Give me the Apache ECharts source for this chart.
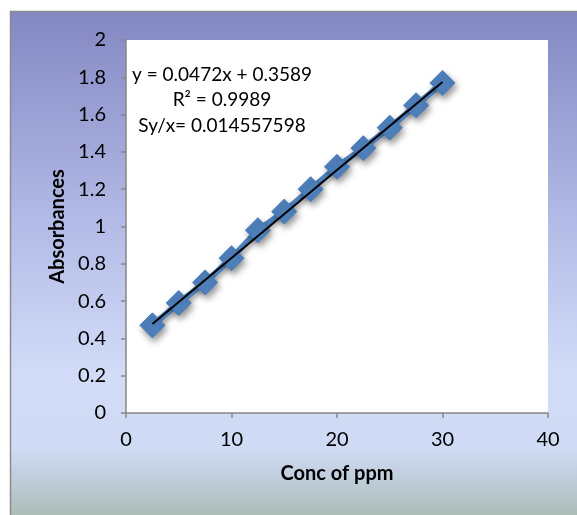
<!DOCTYPE html>
<html>
<head>
<meta charset="utf-8">
<script src="https://cdn.jsdelivr.net/npm/echarts@6/dist/echarts.min.js"></script>
<style>
  html, body { margin: 0; padding: 0; background: #ffffff; }
  #chart { width: 577px; height: 515px; }
</style>
</head>
<body>
<div id="chart"></div>
<script>
// Calibration data: concentration (ppm) vs absorbance
const concentrations = [2.5, 5, 7.5, 10, 12.5, 15, 17.5, 20, 22.5, 25, 27.5, 30];
const absorbances = [0.47, 0.59, 0.70, 0.83, 0.98, 1.08, 1.20, 1.32, 1.42, 1.53, 1.65, 1.77];

// Linear regression results shown on the chart
const slope = 0.0472;
const intercept = 0.3589;
const rSquared = '0.9989';
const syx = '0.014557598';

const xTicks = { min: 0, max: 40, interval: 10 };
const yTicks = { min: 0, max: 2, interval: 0.2 };

const xTitle = 'Conc of ppm';
const yTitle = 'Absorbances';

const FONT = 'Lato, "Open Sans", sans-serif';
const FS = 20;

const points = concentrations.map((x, i) => [x, absorbances[i]]);
const xFirst = concentrations[0];
const xLast = concentrations[concentrations.length - 1];
const trend = [
  [xFirst, slope * xFirst + intercept],
  [xLast, slope * xLast + intercept]
];

const chart = echarts.init(document.getElementById('chart'), null, { renderer: 'canvas' });

chart.setOption({
  animation: false,
  backgroundColor: '#ffffff',
  graphic: [
    {
      type: 'rect',
      z: -10,
      silent: true,
      shape: { x: 10.5, y: 11.5, width: 600, height: 520 },
      style: {
        stroke: '#8c8c8c',
        lineWidth: 1.5,
        fill: {
          type: 'linear', x: 0, y: 0, x2: 0, y2: 1,
          colorStops: [
            { offset: 0, color: '#8387c2' },
            { offset: 0.4, color: '#b2bae6' },
            { offset: 0.7, color: '#d2dcf8' },
            { offset: 0.84, color: '#cfdaf4' },
            { offset: 0.93, color: '#b7c6cc' },
            { offset: 1, color: '#a1b5a1' }
          ]
        }
      }
    },
    {
      type: 'text',
      x: 222,
      y: 62,
      z: 10,
      silent: true,
      style: {
        text: 'y = ' + slope + 'x + ' + intercept + '\nR² = ' + rSquared + '\nSy/x= ' + syx,
        align: 'center',
        verticalAlign: 'top',
        font: '19px ' + FONT,
        lineHeight: 25.5,
        fill: '#000000'
      }
    }
  ],
  grid: {
    left: 126,
    top: 40,
    width: 422,
    height: 373,
    show: true,
    backgroundColor: '#ffffff',
    borderWidth: 0,
    outerBoundsMode: 'none'
  },
  xAxis: {
    type: 'value',
    min: xTicks.min,
    max: xTicks.max,
    interval: xTicks.interval,
    name: xTitle,
    nameLocation: 'middle',
    nameGap: 51,
    nameTextStyle: { fontFamily: FONT, fontSize: FS, fontWeight: 'bold', color: '#000' },
    axisLine: { show: true, onZero: false, lineStyle: { color: '#868686', width: 1.5 } },
    axisTick: { show: true, inside: false, length: 5, lineStyle: { color: '#868686', width: 1.5 } },
    axisLabel: { margin: 17, fontFamily: FONT, fontSize: FS, color: '#000' },
    splitLine: { show: false }
  },
  yAxis: {
    type: 'value',
    min: yTicks.min,
    max: yTicks.max,
    interval: yTicks.interval,
    name: yTitle,
    nameLocation: 'middle',
    nameGap: 54,
    nameRotate: 90,
    nameTextStyle: { fontFamily: FONT, fontSize: FS, fontWeight: 'bold', color: '#000' },
    axisLine: { show: true, onZero: false, lineStyle: { color: '#868686', width: 1.5 } },
    axisTick: { show: true, inside: false, length: 5, lineStyle: { color: '#868686', width: 1.5 } },
    axisLabel: {
      margin: 20, fontFamily: FONT, fontSize: FS, color: '#000',
      formatter: v => String(+v.toFixed(1))
    },
    splitLine: { show: false }
  },
  series: [
    {
      name: 'Absorbance',
      type: 'line',
      data: points,
      symbol: 'diamond',
      symbolSize: 25,
      showSymbol: true,
      lineStyle: {
        color: '#4f81bd',
        width: 6,
        shadowColor: 'rgba(0,0,0,0.35)',
        shadowBlur: 5,
        shadowOffsetX: 2,
        shadowOffsetY: 3
      },
      itemStyle: {
        color: '#4f81bd',
        borderColor: '#4a7ebb',
        borderWidth: 1,
        shadowColor: 'rgba(0,0,0,0.4)',
        shadowBlur: 6,
        shadowOffsetX: 2,
        shadowOffsetY: 4
      },
      z: 2
    },
    {
      name: 'Linear trend',
      type: 'line',
      data: trend,
      symbol: 'none',
      lineStyle: { color: '#000000', width: 2 },
      z: 3,
      silent: true
    }
  ]
});
</script>
</body>
</html>
